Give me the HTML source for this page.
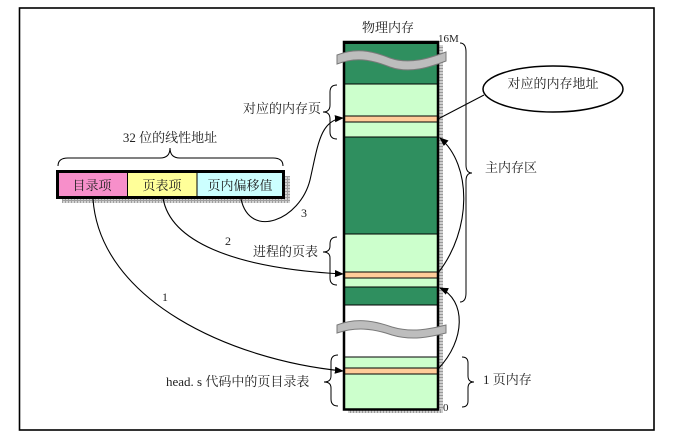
<!DOCTYPE html>
<html><head><meta charset="utf-8"><style>
html,body{margin:0;padding:0;background:#fff;}
svg{display:block;}
text{font-family:"Liberation Serif","Noto Serif CJK SC",serif;fill:#222;}
</style></head><body>
<svg width="694" height="442" viewBox="0 0 694 442" xmlns="http://www.w3.org/2000/svg">
<defs>
<pattern id="rul" width="6" height="3" patternUnits="userSpaceOnUse">
<rect width="6" height="3" fill="#cfcfcf"/><rect y="2" width="6" height="1" fill="#9a9a9a"/>
</pattern>
<pattern id="rulv" width="3" height="6" patternUnits="userSpaceOnUse">
<rect width="3" height="6" fill="#cfcfcf"/><rect x="2" width="1" height="6" fill="#9a9a9a"/>
</pattern>
<pattern id="grid" width="3" height="3" patternUnits="userSpaceOnUse">
<rect width="3" height="3" fill="#d4d4d4"/><rect x="2" width="1" height="3" fill="#a0a0a0"/><rect y="2" width="3" height="1" fill="#a0a0a0"/>
</pattern>
<marker id="ah" viewBox="0 0 10 10" refX="9" refY="5" markerWidth="9" markerHeight="9" markerUnits="userSpaceOnUse" orient="auto">
<path d="M0,1 L10,5 L0,9 Z" fill="#000"/>
</marker>
</defs>

<!-- frame -->
<rect x="19.5" y="8" width="634.5" height="422" fill="none" stroke="#000" stroke-width="1.6"/>

<!-- memory shadow -->
<rect x="438" y="45" width="5" height="368" fill="url(#rul)"/>
<rect x="348" y="409" width="95" height="4" fill="url(#rulv)"/>

<!-- memory column segments -->
<rect x="344" y="44" width="94" height="40" fill="#2f8f5f"/>
<rect x="344" y="84" width="94" height="32" fill="#ccffcc"/>
<rect x="344" y="116" width="94" height="6" fill="#ffcc99"/>
<rect x="344" y="122" width="94" height="15" fill="#ccffcc"/>
<rect x="344" y="137" width="94" height="97" fill="#2f8f5f"/>
<rect x="344" y="234" width="94" height="38" fill="#ccffcc"/>
<rect x="344" y="272" width="94" height="6" fill="#ffcc99"/>
<rect x="344" y="278" width="94" height="9" fill="#ccffcc"/>
<rect x="344" y="287" width="94" height="18" fill="#2f8f5f"/>
<rect x="344" y="305" width="94" height="52" fill="#ffffff"/>
<rect x="344" y="357" width="94" height="11" fill="#ccffcc"/>
<rect x="344" y="368" width="94" height="6" fill="#ffcc99"/>
<rect x="344" y="374" width="94" height="35" fill="#ccffcc"/>
<g stroke="#000" stroke-width="1">
<line x1="344" y1="84" x2="438" y2="84"/>
<line x1="344" y1="116" x2="438" y2="116"/>
<line x1="344" y1="122" x2="438" y2="122"/>
<line x1="344" y1="137" x2="438" y2="137"/>
<line x1="344" y1="234" x2="438" y2="234"/>
<line x1="344" y1="272" x2="438" y2="272"/>
<line x1="344" y1="278" x2="438" y2="278"/>
<line x1="344" y1="287" x2="438" y2="287"/>
<line x1="344" y1="305" x2="438" y2="305"/>
<line x1="344" y1="357" x2="438" y2="357"/>
<line x1="344" y1="368" x2="438" y2="368"/>
<line x1="344" y1="374" x2="438" y2="374"/>
</g>
<rect x="344" y="42" width="94" height="367.5" fill="none" stroke="#000" stroke-width="2.5"/>
<rect x="343" y="41" width="96" height="3" fill="#000"/>

<!-- waves -->
<path d="M337,55 C355,48 370,50 390,58 C410,65 430,58 446,52 L446,61 C430,67 410,74 390,67 C370,59 355,57 337,64 Z" fill="#bdbdbd" stroke="#7a7a7a" stroke-width="1"/>
<path d="M337,325 C355,318 372,320 392,327 C412,333 430,329 446,325 L446,333 C430,337 412,341 392,335 C372,328 355,327 337,333 Z" fill="#bdbdbd" stroke="#7a7a7a" stroke-width="1"/>

<!-- labels on memory -->
<text x="388" y="32" font-size="13" text-anchor="middle">物理内存</text>
<text x="438" y="42" font-size="11" font-family="Liberation Mono, monospace">16M</text>
<text x="443" y="411" font-size="11" font-family="Liberation Mono, monospace">0</text>

<!-- right braces -->
<path d="M460,43 Q466,43 466,52 L466,165 Q466,173 472,173 Q466,173 466,181 L466,293 Q466,302 460,302" fill="none" stroke="#000" stroke-width="1"/>
<text x="485" y="172" font-size="13">主内存区</text>
<path d="M462,357 Q468,357 468,363 L468,376 Q468,382 474,382 Q468,382 468,388 L468,401 Q468,407 462,407" fill="none" stroke="#000" stroke-width="1"/>
<text x="483" y="384" font-size="13">1 页内存</text>

<!-- ellipse -->
<ellipse cx="553" cy="89" rx="70" ry="23" fill="#fff" stroke="#000" stroke-width="1.5"/>
<text x="553" y="88" font-size="13" text-anchor="middle">对应的内存地址</text>
<line x1="484" y1="95" x2="438" y2="119" stroke="#000" stroke-width="1"/>

<!-- left braces -->
<path d="M337,85 Q330,85 330,92 L330,105 Q330,112 323,112 Q330,112 330,119 L330,132 Q330,139 337,139" fill="none" stroke="#000" stroke-width="1"/>
<text x="243" y="113" font-size="13">对应的内存页</text>
<path d="M337,237 Q330,237 330,244 L330,246 Q330,252 323,252 Q330,252 330,258 L330,278 Q330,285 337,285" fill="none" stroke="#000" stroke-width="1"/>
<text x="253" y="256" font-size="13">进程的页表</text>
<path d="M338,355 Q331,355 331,362 L331,376 Q331,382 324,382 Q331,382 331,388 L331,399 Q331,406 338,406" fill="none" stroke="#000" stroke-width="1"/>
<text x="166" y="386" font-size="13">head. s 代码中的页目录表</text>

<!-- address bar -->
<rect x="62" y="176" width="228" height="27" fill="url(#grid)"/>
<rect x="58" y="172" width="69" height="25" fill="#f78fca"/>
<rect x="128" y="172" width="69" height="25" fill="#ffff99"/>
<rect x="197" y="172" width="86" height="25" fill="#ccffff"/>
<line x1="127.5" y1="172" x2="127.5" y2="197" stroke="#000" stroke-width="1"/>
<line x1="197" y1="172" x2="197" y2="197" stroke="#000" stroke-width="1"/>
<rect x="57.5" y="171.5" width="226" height="26" fill="none" stroke="#000" stroke-width="3"/>
<text x="92" y="190" font-size="13" text-anchor="middle">目录项</text>
<text x="162" y="190" font-size="13" text-anchor="middle">页表项</text>
<text x="240" y="190" font-size="13" text-anchor="middle">页内偏移值</text>

<!-- top brace -->
<path d="M58,166 Q58,158 68,158 L160,158 Q170,158 170,148 Q170,158 180,158 L273,158 Q283,158 283,166" fill="none" stroke="#000" stroke-width="1"/>
<text x="170" y="142" font-size="13" text-anchor="middle">32 位的线性地址</text>

<!-- arrows -->
<g fill="none" stroke="#000" stroke-width="1.1">
<path d="M93,199 C100,300 230,360 343,371" marker-end="url(#ah)"/>
<path d="M163,198 C170,240 230,268 343,274" marker-end="url(#ah)"/>
<path d="M241,199 C250,240 300,220 310,180 C318,145 320,120 343,118" marker-end="url(#ah)"/>
<path d="M438,369 C466,340 466,300 440,288" marker-end="url(#ah)"/>
<path d="M438,273 C472,230 472,165 440,138" marker-end="url(#ah)"/>
</g>
<text x="162" y="301" font-size="12">1</text>
<text x="225" y="245" font-size="12">2</text>
<text x="301" y="217" font-size="12">3</text>
</svg>
</body></html>
